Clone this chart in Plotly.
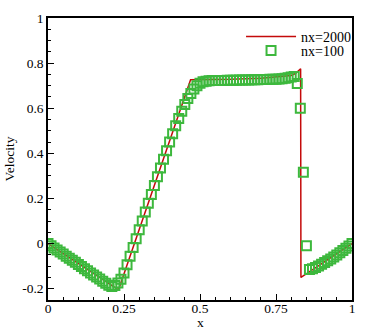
import plotly.graph_objects as go

# Reference solution (nx=2000) – polyline vertices
ref_x = [0.0, 0.232, 0.469, 0.60, 0.70, 0.80, 0.815, 0.831, 0.832, 1.0]
ref_y = [0.0, -0.205, 0.726, 0.728, 0.733, 0.745, 0.755, 0.775, -0.15, 0.0]

# Coarse solution (nx=100)
coarse_x = [i / 100 for i in range(101)]
coarse_y = [
    0.0, -0.009, -0.019, -0.028, -0.037, -0.046, -0.056, -0.065, -0.074, -0.083,
    -0.093, -0.102, -0.111, -0.120, -0.130, -0.139, -0.148, -0.157, -0.167, -0.176,
    -0.185, -0.19, -0.186, -0.175, -0.158, -0.13, -0.094, -0.056, -0.017, 0.022,
    0.061, 0.10, 0.14, 0.179, 0.218, 0.257, 0.296, 0.335, 0.374, 0.412,
    0.45, 0.487, 0.522, 0.555, 0.587, 0.617, 0.643, 0.665, 0.685, 0.70,
    0.711, 0.717, 0.72, 0.722, 0.723, 0.723, 0.723, 0.723, 0.723, 0.724,
    0.724, 0.724, 0.724, 0.725, 0.725, 0.725, 0.725, 0.726, 0.726, 0.726,
    0.727, 0.727, 0.727, 0.728, 0.728, 0.729, 0.73, 0.731, 0.733, 0.735,
    0.738, 0.741, 0.71, 0.60, 0.316, -0.01, -0.115, -0.112, -0.106, -0.099,
    -0.092, -0.084, -0.076, -0.068, -0.059, -0.050, -0.041, -0.031, -0.021, -0.011,
    0.0,
]

x_ticks = [0, 0.25, 0.5, 0.75, 1]
x_labels = ["0", "0.25", "0.5", "0.75", "1"]
y_ticks = [-0.2, 0, 0.2, 0.4, 0.6, 0.8, 1]
y_labels = ["-0.2", "0", "0.2", "0.4", "0.6", "0.8", "1"]
x_title = "x"
y_title = "Velocity"

FONT = "Times New Roman"
FS = 13.5
RED = "#c40a0a"
GREEN = "#3db83d"

fig = go.Figure()
fig.add_trace(go.Scatter(x=ref_x, y=ref_y, mode="lines", name="nx=2000",
                         line=dict(color=RED, width=1.5), legend="legend"))
fig.add_trace(go.Scatter(x=coarse_x, y=coarse_y, mode="markers", name="nx=100",
                         marker=dict(symbol="square-open", size=9,
                                     color=GREEN, line=dict(color=GREEN, width=2)),
                         legend="legend2"))

axis_common = dict(
    showgrid=False, zeroline=False, showline=True, linecolor="black", linewidth=1.5,
    mirror=True, ticks="inside", ticklen=6, tickwidth=1, tickcolor="black",
    tickfont=dict(family=FONT, size=FS, color="black"), automargin=False,
)

fig.update_xaxes(range=[0, 1], tickvals=x_ticks, ticktext=x_labels,
                 minor=dict(ticks="inside", ticklen=3, dtick=0.05, tick0=0, tickcolor="black"),
                 ticklabelstandoff=-5,
                 **axis_common)
fig.update_yaxes(range=[-0.25, 1.0], tickvals=y_ticks, ticktext=y_labels,
                 minor=dict(ticks="inside", ticklen=3, dtick=0.05, tick0=0, tickcolor="black"),
                 title=dict(text=y_title, font=dict(family=FONT, size=FS, color="black"), standoff=4),
                 **axis_common)

fig.add_annotation(text=x_title, xref="paper", yref="paper", x=0.5, y=-0.08,
                   xanchor="center", yanchor="middle", showarrow=False,
                   font=dict(family=FONT, size=FS, color="black"))

leg_common = dict(xanchor="left", yanchor="middle", bgcolor="rgba(0,0,0,0)",
                  font=dict(family=FONT, size=14, color="black"), itemwidth=50)
fig.update_layout(
    width=368, height=333,
    margin=dict(l=48, r=14, t=18, b=33),
    plot_bgcolor="white", paper_bgcolor="white",
    font=dict(family=FONT, size=FS, color="black"),
    legend=dict(x=0.635, y=0.933, **leg_common),
    legend2=dict(x=0.635, y=0.883, **leg_common),
    showlegend=True,
)

fig.write_html("out.html", config={"displayModeBar": False},
               post_script="document.body.style.margin='0';document.body.style.overflow='hidden';")
